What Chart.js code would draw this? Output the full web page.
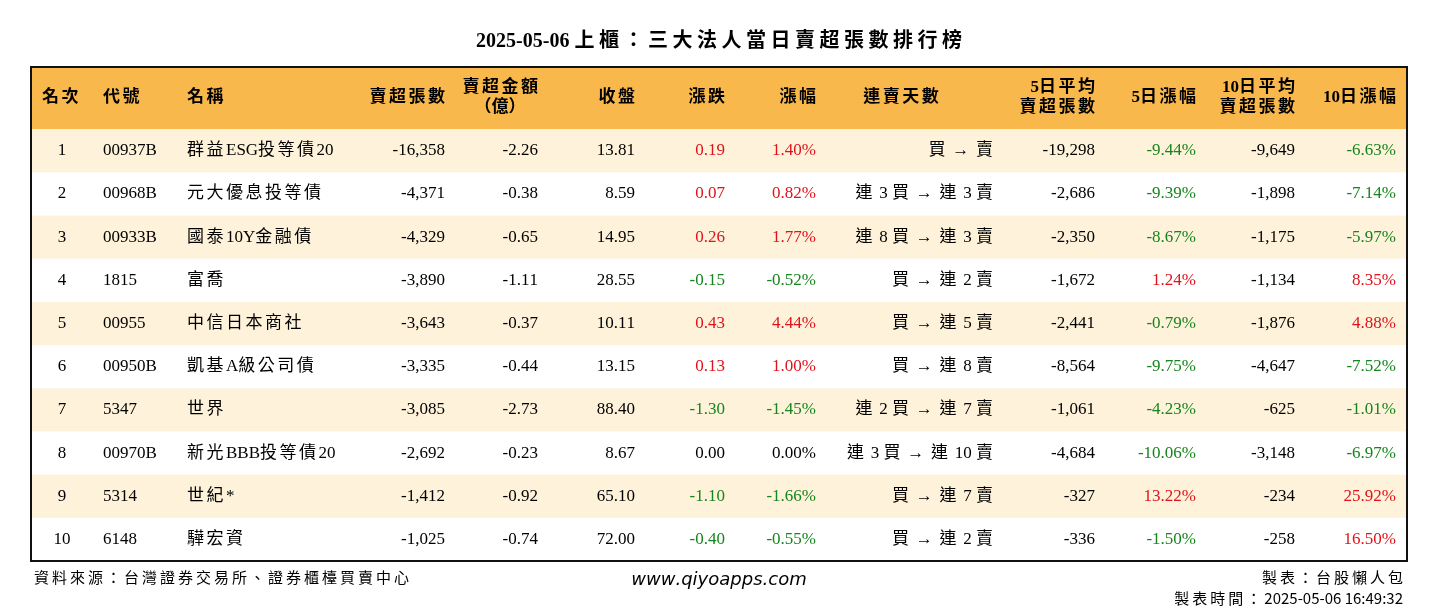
<!DOCTYPE html>
<html><head><meta charset="utf-8">
<script src="https://cdn.jsdelivr.net/npm/chart.js@4/dist/chart.umd.min.js"></script>
<style>html,body{margin:0;padding:0;background:#fff}#wrap{width:1438px;height:612px}</style>
</head><body><div id="wrap"><canvas id="c"></canvas></div>
<script>
const ranks=[1,2,3,4,5,6,7,8,9,10];
const codes=['00937B','00968B','00933B','1815','00955','00950B','5347','00970B','5314','6148'];
const names=['群益ESG投等債20','元大優息投等債','國泰10Y金融債','富喬','中信日本商社','凱基A級公司債','世界','新光BBB投等債20','世紀*','驊宏資'];
const netSell=[-16358,-4371,-4329,-3890,-3643,-3335,-3085,-2692,-1412,-1025];
const amount=[-2.26,-0.38,-0.65,-1.11,-0.37,-0.44,-2.73,-0.23,-0.92,-0.74];
const closes=[13.81,8.59,14.95,28.55,10.11,13.15,88.40,8.67,65.10,72.00];
const change=[0.19,0.07,0.26,-0.15,0.43,0.13,-1.30,0.00,-1.10,-0.40];
const changePct=[1.40,0.82,1.77,-0.52,4.44,1.00,-1.45,0.00,-1.66,-0.55];
const streak=['買 → 賣','連 3 買 → 連 3 賣','連 8 買 → 連 3 賣','買 → 連 2 賣','買 → 連 5 賣','買 → 連 8 賣','連 2 買 → 連 7 賣','連 3 買 → 連 10 賣','買 → 連 7 賣','買 → 連 2 賣'];
const avg5=[-19298,-2686,-2350,-1672,-2441,-8564,-1061,-4684,-327,-336];
const pct5=[-9.44,-9.39,-8.67,1.24,-0.79,-9.75,-4.23,-10.06,13.22,-1.50];
const avg10=[-9649,-1898,-1175,-1134,-1876,-4647,-625,-3148,-234,-258];
const pct10=[-6.63,-7.14,-5.97,8.35,4.88,-7.52,-1.01,-6.97,25.92,16.50];
const headers=[['名次'],['代號'],['名稱'],['賣超張數'],['賣超金額','（億）'],['收盤'],['漲跌'],['漲幅'],['連賣天數'],['5日平均','賣超張數'],['5日漲幅'],['10日平均','賣超張數'],['10日漲幅']];

const colX=[31,72,156,414,507,604,694,785,962,1064,1165,1264,1365];
const colAlign=['center','left','left','right','right','right','right','right','right','right','right','right','right'];
const RED='#e0121b',GREEN='#17851d';
const fmtInt=v=>v.toLocaleString('en-US');
const colorOf=v=>v>0?RED:(v<0?GREEN:'#000');
const SERIF='"Liberation Serif","Noto Sans CJK TC",serif';
const isWide=ch=>/[\u2190-\u21ff\u3000-\u9fff\uff00-\uffef]/.test(ch);

function txt(ctx,s,px,py,al,sp){
  const chars=[...s];
  const w=chars.map(c=>ctx.measureText(c).width+(isWide(c)?sp:0));
  let total=w.reduce((p,q)=>p+q,0);
  if(isWide(chars[chars.length-1])) total-=sp;
  let cx=al==='left'?px:(al==='right'?px-total:px-total/2);
  ctx.textAlign='left';
  chars.forEach((c,k)=>{ctx.fillText(c,cx,py);cx+=w[k];});
}

const tablePlugin={id:'table',
 beforeDraw(ch){
  const {ctx,scales:{x,y},chartArea:a}=ch;
  ctx.save();
  ctx.fillStyle='#fff';ctx.fillRect(0,0,ch.width,ch.height);
  ctx.fillStyle='#f9b84c';
  ctx.fillRect(a.left,y.getPixelForValue(-1.44),a.right-a.left,y.getPixelForValue(0)-y.getPixelForValue(-1.44));
  ranks.forEach((r,i)=>{ if(i%2===0){ctx.fillStyle='#fef3da';const t=y.getPixelForValue(i),b=y.getPixelForValue(i+1);ctx.fillRect(a.left,t,a.right-a.left,b-t);} });
  ctx.restore();
 },
 afterDraw(ch){
  const {ctx,scales:{x,y},chartArea:a}=ch;
  ctx.save();
  ctx.strokeStyle='#111';ctx.lineWidth=2;ctx.strokeRect(a.left,a.top,a.right-a.left,a.bottom-a.top);
  ctx.textBaseline='middle';
  ctx.fillStyle='#000';ctx.font='bold 20px '+SERIF;
  txt(ctx,'2025-05-06 上櫃：三大法人當日賣超張數排行榜',719,42,'center',4.5);
  ctx.font='bold 17px '+SERIF;
  headers.forEach((h,j)=>{
   let al=colAlign[j],px=x.getPixelForValue(colX[j]);
   if(j===0){al='left';px=x.getPixelForValue(11);}
   if(j===8){al='center';px=x.getPixelForValue(870);}
   const cy=y.getPixelForValue(-0.72);
   if(h.length===1){txt(ctx,h[0],px,cy,al,2.5);}
   else{
    txt(ctx,h[0],px,cy-10,al,2.5);
    if(j===4){txt(ctx,h[1],px-38,cy+10,'center',0);}
    else txt(ctx,h[1],px,cy+10,al,2.5);
   }
  });
  ranks.forEach((r,i)=>{
   const cy=y.getPixelForValue(i+0.5);
   const cells=[[String(r),'#000'],[codes[i],'#000'],[names[i],'#000'],[fmtInt(netSell[i]),'#000'],[amount[i].toFixed(2),'#000'],[closes[i].toFixed(2),'#000'],
    [change[i].toFixed(2),colorOf(change[i])],[changePct[i].toFixed(2)+'%',colorOf(changePct[i])],[streak[i],'#000'],
    [fmtInt(avg5[i]),'#000'],[pct5[i].toFixed(2)+'%',colorOf(pct5[i])],[fmtInt(avg10[i]),'#000'],[pct10[i].toFixed(2)+'%',colorOf(pct10[i])]];
   cells.forEach((c,j)=>{
    ctx.fillStyle=c[1];
    ctx.font='17px '+SERIF;
    txt(ctx,c[0],x.getPixelForValue(colX[j]),cy,colAlign[j],2.5);
   });
  });
  ctx.fillStyle='#000';ctx.font='15px "Noto Sans CJK TC",sans-serif';
  txt(ctx,'資料來源：台灣證券交易所、證券櫃檯買賣中心',34,577,'left',3);
  txt(ctx,'製表：台股懶人包',1403,577,'right',3);
  txt(ctx,'製表時間：2025-05-06 16:49:32',1403,598,'right',3);
  ctx.font='italic 18px "DejaVu Sans",sans-serif';
  txt(ctx,'www.qiyoapps.com',719,580,'center',0);
  ctx.restore();
 }};

new Chart(document.getElementById('c'),{
 type:'scatter',
 data:{datasets:[{data:ranks.map((r,i)=>({x:0,y:i+0.5})),pointRadius:0}]},
 options:{responsive:true,maintainAspectRatio:false,animation:false,
  layout:{padding:{left:31,right:31,top:67,bottom:51}},
  plugins:{legend:{display:false},tooltip:{enabled:false}},
  scales:{x:{type:'linear',min:0,max:1376,display:false},
          y:{type:'linear',min:-1.44,max:10,reverse:true,display:false}}},
 plugins:[tablePlugin]});
</script></body></html>
